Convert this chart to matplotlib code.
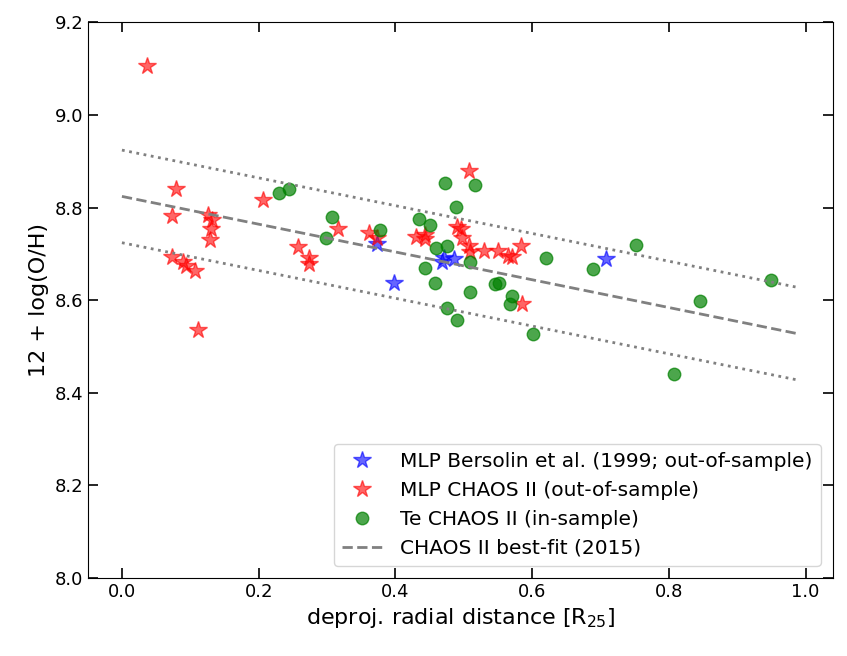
import numpy as np
import matplotlib.pyplot as plt

# MLP estimates, Bresolin et al. (1999) regions
blue_r = [0.373, 0.398, 0.471, 0.468, 0.485, 0.708]
blue_oh = [8.721, 8.636, 8.690, 8.683, 8.689, 8.688]

# MLP estimates, CHAOS II regions
red_r = [0.036, 0.079, 0.073, 0.073, 0.089, 0.094, 0.107, 0.111, 0.126, 0.132,
         0.131, 0.129, 0.206, 0.257, 0.274, 0.274, 0.316, 0.361, 0.373, 0.430,
         0.443, 0.443, 0.496, 0.490, 0.497, 0.507, 0.509, 0.508, 0.529, 0.550,
         0.565, 0.570, 0.584, 0.585]
red_oh = [9.106, 8.840, 8.782, 8.693, 8.682, 8.674, 8.663, 8.536, 8.784, 8.773,
          8.754, 8.730, 8.816, 8.715, 8.691, 8.678, 8.754, 8.745, 8.734, 8.737,
          8.741, 8.732, 8.754, 8.757, 8.734, 8.717, 8.705, 8.878, 8.706, 8.706,
          8.695, 8.694, 8.717, 8.591]

# direct Te abundances, CHAOS II
green_r = [0.230, 0.244, 0.307, 0.298, 0.377, 0.473, 0.517, 0.488, 0.435, 0.450,
           0.459, 0.475, 0.444, 0.458, 0.509, 0.509, 0.546, 0.551, 0.570, 0.567,
           0.476, 0.490, 0.601, 0.621, 0.689, 0.752, 0.845, 0.949, 0.807]
green_oh = [8.831, 8.840, 8.780, 8.734, 8.752, 8.853, 8.849, 8.802, 8.775, 8.762,
            8.712, 8.717, 8.669, 8.636, 8.683, 8.618, 8.635, 8.636, 8.608, 8.591,
            8.582, 8.556, 8.526, 8.690, 8.667, 8.719, 8.598, 8.644, 8.440]

# CHAOS II gradient
fit_icpt = 8.824
fit_slope = -0.30
fit_scatter = 0.10

plt.rcParams['font.family'] = 'DejaVu Sans'
fig = plt.figure(figsize=(8.47, 6.56), dpi=100)
ax = fig.add_axes([0.104, 0.119, 0.879, 0.847])

ax.plot(blue_r, blue_oh, '*', color='blue', alpha=0.6, ms=13, ls='none',
        label='MLP Bersolin et al. (1999; out-of-sample)')
ax.plot(red_r, red_oh, '*', color='red', alpha=0.6, ms=13, ls='none',
        label='MLP CHAOS II (out-of-sample)')
ax.plot(green_r, green_oh, 'o', color='green', alpha=0.7, ms=9, ls='none',
        label='Te CHAOS II (in-sample)')

rr = np.arange(0, 1.0, 0.01)
best = fit_icpt + fit_slope * rr
ax.plot(rr, best, '--', color='gray', lw=2, label='CHAOS II best-fit (2015)')
ax.plot(rr, best + fit_scatter, ':', color='gray', lw=2)
ax.plot(rr, best - fit_scatter, ':', color='gray', lw=2)

ax.set_ylim(8.0, 9.2)
ax.set_yticks([8.0, 8.2, 8.4, 8.6, 8.8, 9.0, 9.2])
ax.set_xticks([0.0, 0.2, 0.4, 0.6, 0.8, 1.0])
ax.tick_params(direction='in', top=True, right=True, length=7, width=1.2,
               labelsize=13)

ax.set_xlabel(r'deproj. radial distance [R$_{25}$]', fontsize=16)
ax.set_ylabel('12 + log(O/H)', fontsize=16)

ax.legend(loc='lower right', fontsize=14.5, borderaxespad=0.6,
          labelspacing=0.5, handletextpad=0.9)

fig.savefig('out.png', dpi=100)
